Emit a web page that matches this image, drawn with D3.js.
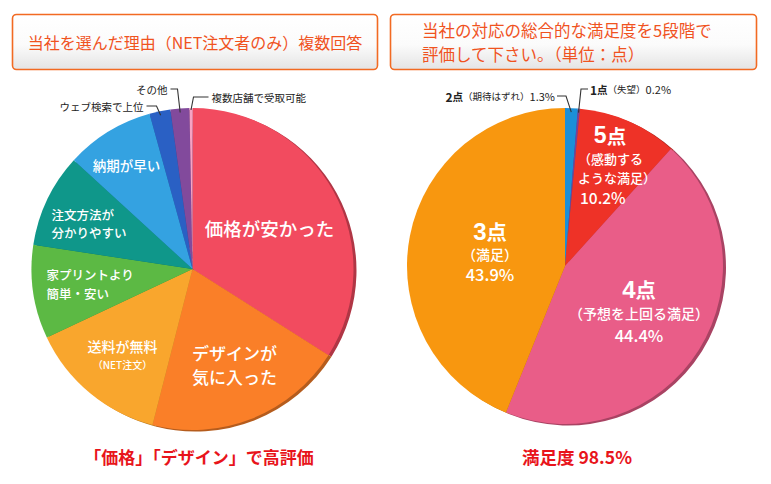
<!DOCTYPE html>
<html><head><meta charset="utf-8">
<script src="https://cdn.jsdelivr.net/npm/d3@7"></script>
<style>
html,body{margin:0;padding:0;background:#fff;}
svg{display:block;font-family:"Noto Sans CJK JP","Noto Sans",sans-serif;}
</style></head>
<body>
<svg id="chart" width="771" height="484"></svg>
<script>
// ---- data ----
const reasonLabels = ["価格が安かった","デザインが気に入った","送料が無料（NET注文）","家プリントより簡単・安い","注文方法が分かりやすい","納期が早い","ウェブ検索で上位","その他","複数店舗で受取可能"];
const reasonValues = [34.0, 20.0, 14.0, 9.4, 9.4, 8.9, 2.1, 1.9, 0.3];
const reasonColors = ["#f24b5f","#fa7f28","#f9a62d","#5cb944","#0f978a","#34a2e1","#2a60c4","#824a9c","#f6a3c3"];

const ratingLabels = ["2点","1点","5点","4点","3点"];
const ratingValues = [1.3, 0.2, 10.2, 44.4, 43.9];
const ratingColors = ["#1b8fd8","#7b3f9b","#ee3227","#e95d88","#f8970f"];

const titleLeft = ["当社を選んだ理由（NET注文者のみ）複数回答"];
const titleRight = ["当社の対応の総合的な満足度を5段階で","評価して下さい。（単位：点）"];
const captionLeft = "「価格」「デザイン」で高評価";
const captionRight = "満足度 98.5%";

const svg = d3.select("#chart");
const defs = svg.append("defs");
const grad = defs.append("linearGradient").attr("id","boxg").attr("x1",0).attr("y1",0).attr("x2",0).attr("y2",1);
grad.append("stop").attr("offset","0").attr("stop-color","#ffffff");
grad.append("stop").attr("offset","0.55").attr("stop-color","#fbfbfb");
grad.append("stop").attr("offset","1").attr("stop-color","#e4e4e4");

function titleBox(x, y, w, h, lines, tx, ty, lh, anchor, size){
  svg.append("rect").attr("x",x).attr("y",y).attr("width",w).attr("height",h)
    .attr("rx",4).attr("fill","url(#boxg)").attr("stroke","#f26a22").attr("stroke-width",1.6);
  const t = svg.append("text").attr("fill","#f0531f").attr("font-size",size).attr("text-anchor",anchor);
  lines.forEach((l,i)=>t.append("tspan").attr("x",tx).attr("y",ty+i*lh).text(l));
}
titleBox(12.5, 14.5, 365, 55, titleLeft, 195, 49, 0, "middle", 16);
titleBox(390.5, 14.5, 366, 55, titleRight, 422, 37, 23.5, "start", 16.5);

function drawPie(cx, cy, r, values, colors){
  const g = svg.append("g").attr("transform",`translate(${cx},${cy})`);
  const arcs = d3.pie().sort(null).value(d=>d)(values);
  const arc = d3.arc().innerRadius(0).outerRadius(r);
  // shadow rim
  g.append("g").attr("transform","translate(3,1.5)")
    .selectAll("path").data(arcs).join("path")
    .attr("d",arc).attr("fill",(d,i)=>d3.color(colors[i]).darker(0.9));
  g.append("g").selectAll("path").data(arcs).join("path")
    .attr("d",arc).attr("fill",(d,i)=>colors[i]);
  return {g, arcs, r};
}

const L = drawPie(192.5, 269, 161, reasonValues, reasonColors);
const R = drawPie(565, 266, 158, ratingValues, ratingColors);

function txt(g, x, y, s, size, opts={}){
  return g.append("text").attr("x",x).attr("y",y).attr("font-size",size)
    .attr("fill",opts.fill||"#fff").attr("text-anchor",opts.anchor||"middle")
    .attr("dominant-baseline","central").attr("font-weight",opts.weight||"normal").text(s);
}

// left pie inside labels (relative to center)
const lg = L.g;
txt(lg, 77, -41, "価格が安かった", 18.5, {weight:"500"});
txt(lg, 42, 83, "デザインが", 17, {weight:"500"});
txt(lg, 42, 107, "気に入った", 17, {weight:"500"});
txt(lg, -70, 77, "送料が無料", 14, {weight:"500"});
txt(lg, -70, 95, "（NET注文）", 10, {weight:"500"});
txt(lg, -146, 5, "家プリントより", 12.5, {anchor:"start", weight:"500"});
txt(lg, -146, 24, "簡単・安い", 12.5, {anchor:"start", weight:"500"});
txt(lg, -141, -55, "注文方法が", 12.5, {anchor:"start", weight:"500"});
txt(lg, -141, -37, "分かりやすい", 12.5, {anchor:"start", weight:"500"});
txt(lg, -66, -104, "納期が早い", 13.5, {weight:"500"});

// leader helper: point on slice rim
function rimPoint(a, r){ const m=(a.startAngle+a.endAngle)/2; return [Math.sin(m)*r, -Math.cos(m)*r]; }
function leader(g, a, r, pts){
  const p = rimPoint(a, r);
  g.append("path").attr("d", d3.line()(pts.concat([p]))).attr("fill","none").attr("stroke","#333").attr("stroke-width",1.1);
}
const la = L.arcs;
leader(lg, la[6], L.r-4, [[-46,-163],[-36,-163]]);
txt(lg, -49, -163, "ウェブ検索で上位", 10.5, {anchor:"end", fill:"#222"});
leader(lg, la[7], L.r-4, [[-22,-180],[-15,-180]]);
txt(lg, -25, -180, "その他", 10.5, {anchor:"end", fill:"#222"});
leader(lg, la[8], L.r-2, [[16,-172],[1,-172]]);
txt(lg, 19, -172, "複数店舗で受取可能", 10.5, {anchor:"start", fill:"#222"});

// right pie labels
const rg = R.g;
function bigLabel(g, x, y, num, size){
  const t = g.append("text").attr("x",x).attr("y",y).attr("fill","#fff").attr("text-anchor","middle")
    .attr("dominant-baseline","central").attr("font-weight","bold");
  t.append("tspan").attr("font-size",size).attr("font-family","Liberation Sans, Arial, sans-serif").text(num);
  t.append("tspan").attr("font-size",size*0.85).text("点");
}
bigLabel(rg, 45, -131, "5", 23);
txt(rg, 13, -108, "（感動する", 13, {anchor:"start", weight:"500"});
txt(rg, 13, -89, "ような満足）", 13, {anchor:"start", weight:"500"});
txt(rg, 15, -69, "10.2%", 15.5, {anchor:"start", weight:"500"});
bigLabel(rg, -75, -35, "3", 24);
txt(rg, -75, -12, "（満足）", 14, {weight:"500"});
txt(rg, -75, 8, "43.9%", 16.5, {weight:"500"});
bigLabel(rg, 74, 23, "4", 24);
txt(rg, 74, 47, "（予想を上回る満足）", 14, {weight:"500"});
txt(rg, 74, 69, "44.4%", 16.5, {weight:"500"});

const ra = R.arcs;
leader(rg, ra[0], R.r-4, [[-8,-170],[1,-170]]);
const t2 = rg.append("text").attr("x",-10).attr("y",-170).attr("text-anchor","end").attr("dominant-baseline","central").attr("fill","#222");
t2.append("tspan").attr("font-size",12).attr("font-weight","bold").text("2");
t2.append("tspan").attr("font-size",10.5).attr("font-weight","bold").text("点");
t2.append("tspan").attr("font-size",9.5).text("（期待はずれ）");
t2.append("tspan").attr("font-size",11).text("1.3%");
leader(rg, ra[1], R.r-4, [[23,-177],[16,-177]]);
const t1 = rg.append("text").attr("x",25).attr("y",-177).attr("text-anchor","start").attr("dominant-baseline","central").attr("fill","#222");
t1.append("tspan").attr("font-size",12).attr("font-weight","bold").text("1");
t1.append("tspan").attr("font-size",10.5).attr("font-weight","bold").text("点");
t1.append("tspan").attr("font-size",9.5).text("（失望）");
t1.append("tspan").attr("font-size",11).text("0.2%");

// captions
svg.append("text").attr("x",199).attr("y",456).attr("text-anchor","middle").attr("dominant-baseline","central")
  .attr("fill","#e8141b").attr("font-size",17).attr("font-weight","bold").text(captionLeft);
svg.append("text").attr("x",577).attr("y",456).attr("text-anchor","middle").attr("dominant-baseline","central")
  .attr("fill","#e8141b").attr("font-size",17.5).attr("font-weight","bold").text(captionRight);
</script>
</body></html>
